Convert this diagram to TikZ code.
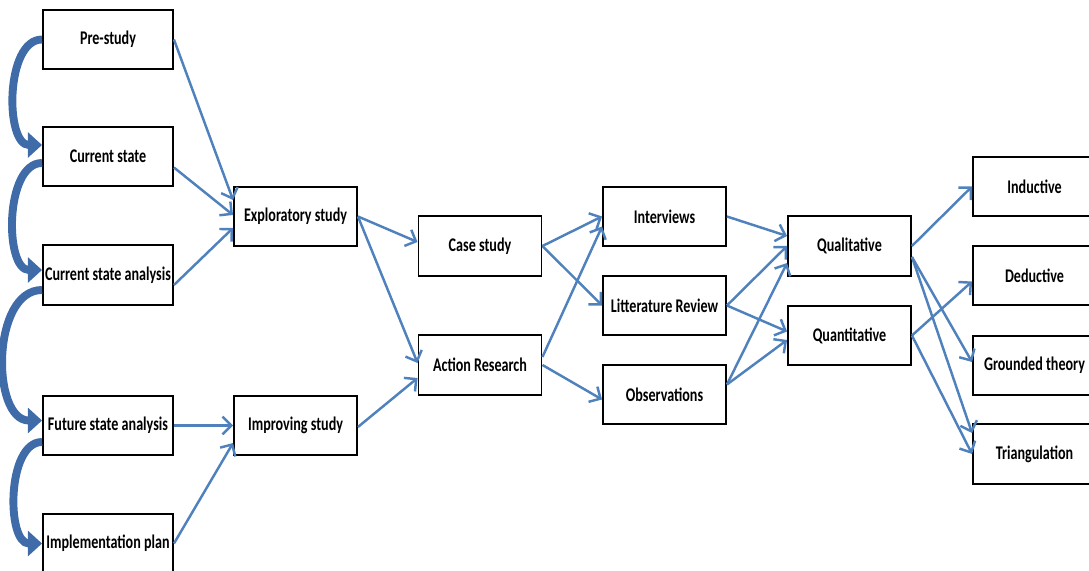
\documentclass[tikz,border=0pt]{standalone}
\usepackage{fontspec}
\newfontfamily\boxfont{Carlito}[FakeStretch=0.73]
\usetikzlibrary{arrows.meta}
\definecolor{linkblue}{HTML}{4F81BD}
\definecolor{flowblue}{HTML}{3F6CA8}

\begin{document}
\begin{tikzpicture}[x=0.02cm,y=-0.02cm]
\tikzstyle{every node} = [font = \boxfont\bfseries\fontsize{11}{13}\selectfont]
\tikzstyle{box} = [draw, line width=1.1pt, minimum width=2.46cm, minimum height=1.19cm, inner sep=1pt]
\tikzstyle{wide} = [box, minimum width=2.6cm]
\tikzstyle{link} = [draw=linkblue, line width=1.4pt, -{Straight Barb[length=5pt,width=10pt]}]
\tikzstyle{flow} = [draw=flowblue, line width=4.5pt, -{Triangle[length=8pt,width=14pt]}]

\useasboundingbox (0,0) rectangle (1089,571);

% colonna delle fasi
\node[wide] (pre) at (108, 39.5) {Pre-study};
\node[wide] (cur) at (108, 156.5) {Current state};
\node[wide] (csa) at (108, 275) {Current state analysis};
\node[wide] (fsa) at (108, 425.5) {Future state analysis};
\node[wide] (impl) at (108, 543.5) {Implementation plan};

% tipo di studio
\node[box] (expl) at (295.5, 216.5) {Exploratory study};
\node[box] (impr) at (295.5, 425.5) {Improving study};

% strategia
\node[box] (case) at (480, 246) {Case study};
\node[box] (act) at (480, 365) {Action Research};

% raccolta dati
\node[box] (intv) at (664.5, 216.5) {Interviews};
\node[box] (lit) at (664.5, 305.5) {Litterature Review};
\node[box] (obs) at (664.5, 394.5) {Observations};

% analisi
\node[box] (qual) at (849.5, 246) {Qualitative};
\node[box] (quant) at (849.5, 335.5) {Quantitative};

% ragionamento
\node[box] (ind) at (1034.5, 186.5) {Inductive};
\node[box] (ded) at (1034.5, 275.5) {Deductive};
\node[box] (grd) at (1034.5, 365.5) {Grounded theory};
\node[box] (tri) at (1034.5, 454) {Triangulation};

% frecce curve a sinistra
\draw[flow] (pre.west) to[out=180, in=180, looseness=0.9] ([yshift=0.23cm]cur.west);
\draw[flow] ([yshift=-0.13cm]cur.west) to[out=180, in=180, looseness=0.9] ([yshift=0.1cm]csa.west);
\draw[flow] ([yshift=-0.3cm]csa.west) to[out=180, in=180] ([yshift=0.1cm]fsa.west);
\draw[flow] ([yshift=-0.33cm]fsa.west) to[out=180, in=180, looseness=0.9] (impl.west);

% primo livello
\draw[link] (pre.east) -- ([yshift=0.33cm]expl.west);
\draw[link] ([yshift=-0.22cm]cur.east) -- ([yshift=0.03cm]expl.west);
\draw[link] ([yshift=-0.2cm]csa.east) -- ([yshift=-0.23cm]expl.west);
\draw[link] (fsa.east) -- (impr.west);
\draw[link] (impl.east) -- ([yshift=-0.35cm]impr.west);

% secondo livello
\draw[link] (expl.east) -- ([yshift=0.08cm]case.west);
\draw[link] (expl.east) -- ([yshift=0.04cm]act.west);
\draw[link] ([yshift=-0.03cm]impr.east) -- ([yshift=-0.26cm]act.west);

% terzo livello
\draw[link] (case.east) -- (intv.west);
\draw[link] (case.east) -- (lit.west);
\draw[link] ([yshift=0.16cm]act.east) -- ([yshift=-0.2cm]intv.west);
\draw[link] (act.east) -- ([yshift=-0.1cm]obs.west);

% quarto livello
\draw[link] (intv.east) -- ([yshift=0.2cm]qual.west);
\draw[link] (lit.east) -- (qual.west);
\draw[link] (lit.east) -- ([yshift=0.08cm]quant.west);
\draw[link] ([yshift=0.2cm]obs.east) -- ([yshift=-0.34cm]qual.west);
\draw[link] ([yshift=0.2cm]obs.east) -- ([yshift=-0.09cm]quant.west);

% quinto livello
\draw[link] (qual.east) -- (ind.west);
\draw[link] ([yshift=-0.22cm]qual.east) -- ([yshift=0.07cm]grd.west);
\draw[link] ([yshift=-0.22cm]qual.east) -- ([yshift=0.42cm]tri.west);
\draw[link] (quant.east) -- ([yshift=-0.12cm]ded.west);
\draw[link] (quant.east) -- (tri.west);

\end{tikzpicture}
\end{document}
